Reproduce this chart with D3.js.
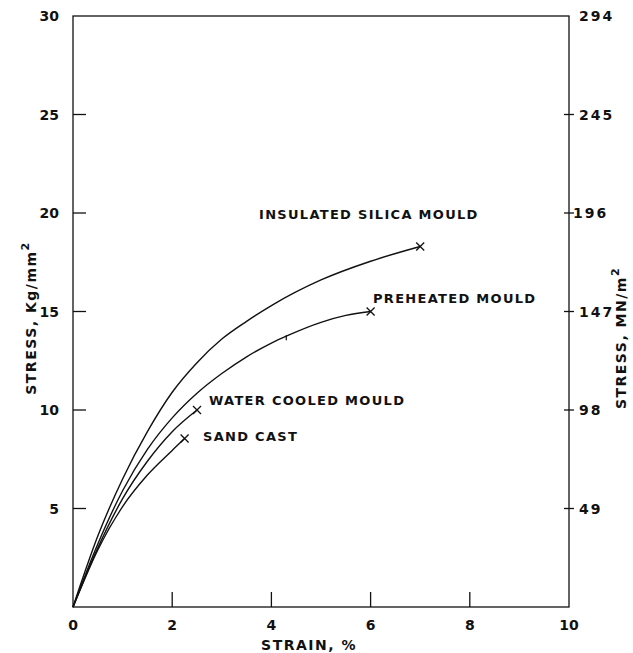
<!DOCTYPE html>
<html>
<head>
<meta charset="utf-8">
<script src="https://cdn.jsdelivr.net/npm/d3@7"></script>
<style>
  body { margin: 0; background: #fff; }
  text { font-family: "DejaVu Sans", sans-serif; font-weight: bold; fill: #111; }
</style>
</head>
<body>
<svg id="chart" width="633" height="653"></svg>
<script>
// strain (%) vs stress (kg/mm2)
const insulated = [[0,0],[0.5,3.6],[1,6.5],[1.5,8.9],[2,10.9],[2.5,12.4],[3,13.6],[3.5,14.5],[4,15.3],[5,16.6],[6,17.55],[7,18.3]];
const preheated = [[0,0],[0.5,3.2],[1,5.9],[1.5,8.0],[2,9.6],[2.5,10.85],[3,11.85],[3.5,12.7],[4,13.4],[4.3,13.75],[5,14.45],[5.5,14.8],[6,15.0]];
const waterCooled = [[0,0],[0.5,3.0],[1,5.5],[1.5,7.4],[2,8.9],[2.5,10.0]];
const sandCast = [[0,0],[0.5,2.9],[1,5.1],[1.5,6.7],[2,7.95],[2.25,8.55]];

const curveNames = ["INSULATED SILICA MOULD", "PREHEATED MOULD", "WATER COOLED MOULD", "SAND CAST"];
const xTicks = [0, 2, 4, 6, 8, 10];
const yTicks = [5, 10, 15, 20, 25, 30];
const y2Ticks = [49, 98, 147, 196, 245, 294];

const svg = d3.select("#chart");
const mLeft = 73, mRight = 569, mTop = 16, mBottom = 607;

let x = d3.scaleLinear().domain([0, 10]).range([mLeft, mRight]);
let y = d3.scaleLinear().domain([0, 30]).range([mBottom, mTop]);
let y2 = d3.scaleLinear().domain([0, 294]).range([mBottom, mTop]);

// frame
svg.append("rect")
    .attr("x", mLeft).attr("y", mTop)
    .attr("width", mRight - mLeft).attr("height", mBottom - mTop)
    .attr("fill", "none").attr("stroke", "#111").attr("stroke-width", 1.3);

// x ticks (inside)
svg.selectAll("line.xt")
    .data(xTicks.filter(d => d > 0 && d < 10))
    .enter().append("line")
    .attr("x1", d => x(d)).attr("x2", d => x(d))
    .attr("y1", mBottom).attr("y2", mBottom - 15)
    .attr("stroke", "#111").attr("stroke-width", 1.3);

svg.selectAll("text.xl")
    .data(xTicks)
    .enter().append("text")
    .attr("x", d => x(d)).attr("y", 630)
    .attr("text-anchor", "middle")
    .attr("font-size", 14)
    .text(d => d);

// left y ticks (inside)
svg.selectAll("line.yt")
    .data(yTicks.filter(d => d < 30))
    .enter().append("line")
    .attr("x1", mLeft).attr("x2", mLeft + 13)
    .attr("y1", d => y(d)).attr("y2", d => y(d))
    .attr("stroke", "#111").attr("stroke-width", 1.3);

svg.selectAll("text.yl")
    .data(yTicks)
    .enter().append("text")
    .attr("x", 59).attr("y", d => y(d) + 5)
    .attr("text-anchor", "end")
    .attr("font-size", 14)
    .text(d => d);

// right y ticks (crossing)
svg.selectAll("line.y2t")
    .data(y2Ticks.filter(d => d < 294))
    .enter().append("line")
    .attr("x1", mRight - 5).attr("x2", mRight + 5)
    .attr("y1", d => y2(d)).attr("y2", d => y2(d))
    .attr("stroke", "#111").attr("stroke-width", 1.3);

svg.selectAll("text.y2l")
    .data(y2Ticks)
    .enter().append("text")
    .attr("x", d => d == 196 ? 573 : 579).attr("y", d => y2(d) + 5)
    .attr("font-size", 14)
    .attr("letter-spacing", 2)
    .text(d => d);

// curves
let line = d3.line()
    .x(d => x(d[0]))
    .y(d => y(d[1]))
    .curve(d3.curveMonotoneX);

let series = [insulated, preheated, waterCooled, sandCast];

svg.selectAll("path.curve")
    .data(series)
    .enter().append("path")
    .attr("d", line)
    .attr("fill", "none")
    .attr("stroke", "#111")
    .attr("stroke-width", 1.4);

// x markers at the end of each curve
let ends = series.map(s => s[s.length - 1]);
svg.selectAll("path.mark")
    .data(ends)
    .enter().append("path")
    .attr("d", d => {
        let cx = x(d[0]), cy = y(d[1]);
        return `M${cx-4},${cy-4}L${cx+4},${cy+4}M${cx-4},${cy+4}L${cx+4},${cy-4}`;
    })
    .attr("stroke", "#111").attr("stroke-width", 1.3);

// small tick on the preheated curve
let pm = preheated[9];
svg.append("line")
    .attr("x1", x(pm[0])).attr("x2", x(pm[0]))
    .attr("y1", y(pm[1]) - 1).attr("y2", y(pm[1]) + 4)
    .attr("stroke", "#111").attr("stroke-width", 1.2);

// curve labels
let labelPos = [[259, 219], [373, 303], [209, 405], [203, 441]];
svg.selectAll("text.cl")
    .data(curveNames)
    .enter().append("text")
    .attr("x", (d, i) => labelPos[i][0])
    .attr("y", (d, i) => labelPos[i][1])
    .attr("font-size", 13)
    .attr("letter-spacing", 1.3)
    .text(d => d);

// axis titles
svg.append("text")
    .attr("x", 309).attr("y", 650)
    .attr("text-anchor", "middle")
    .attr("font-size", 14)
    .attr("letter-spacing", 1.5)
    .text("STRAIN, %");

let yt = svg.append("text")
    .attr("transform", "translate(36,318) rotate(-90)")
    .attr("text-anchor", "middle")
    .attr("font-size", 14)
    .attr("letter-spacing", 1.5);
yt.append("tspan").text("STRESS, Kg/mm");
yt.append("tspan").attr("dy", -7).attr("font-size", 11).text("2");

let y2t = svg.append("text")
    .attr("transform", "translate(626,338) rotate(-90)")
    .attr("text-anchor", "middle")
    .attr("font-size", 14)
    .attr("letter-spacing", 1.5);
y2t.append("tspan").text("STRESS, MN/m");
y2t.append("tspan").attr("dy", -7).attr("font-size", 11).text("2");
</script>
</body>
</html>
